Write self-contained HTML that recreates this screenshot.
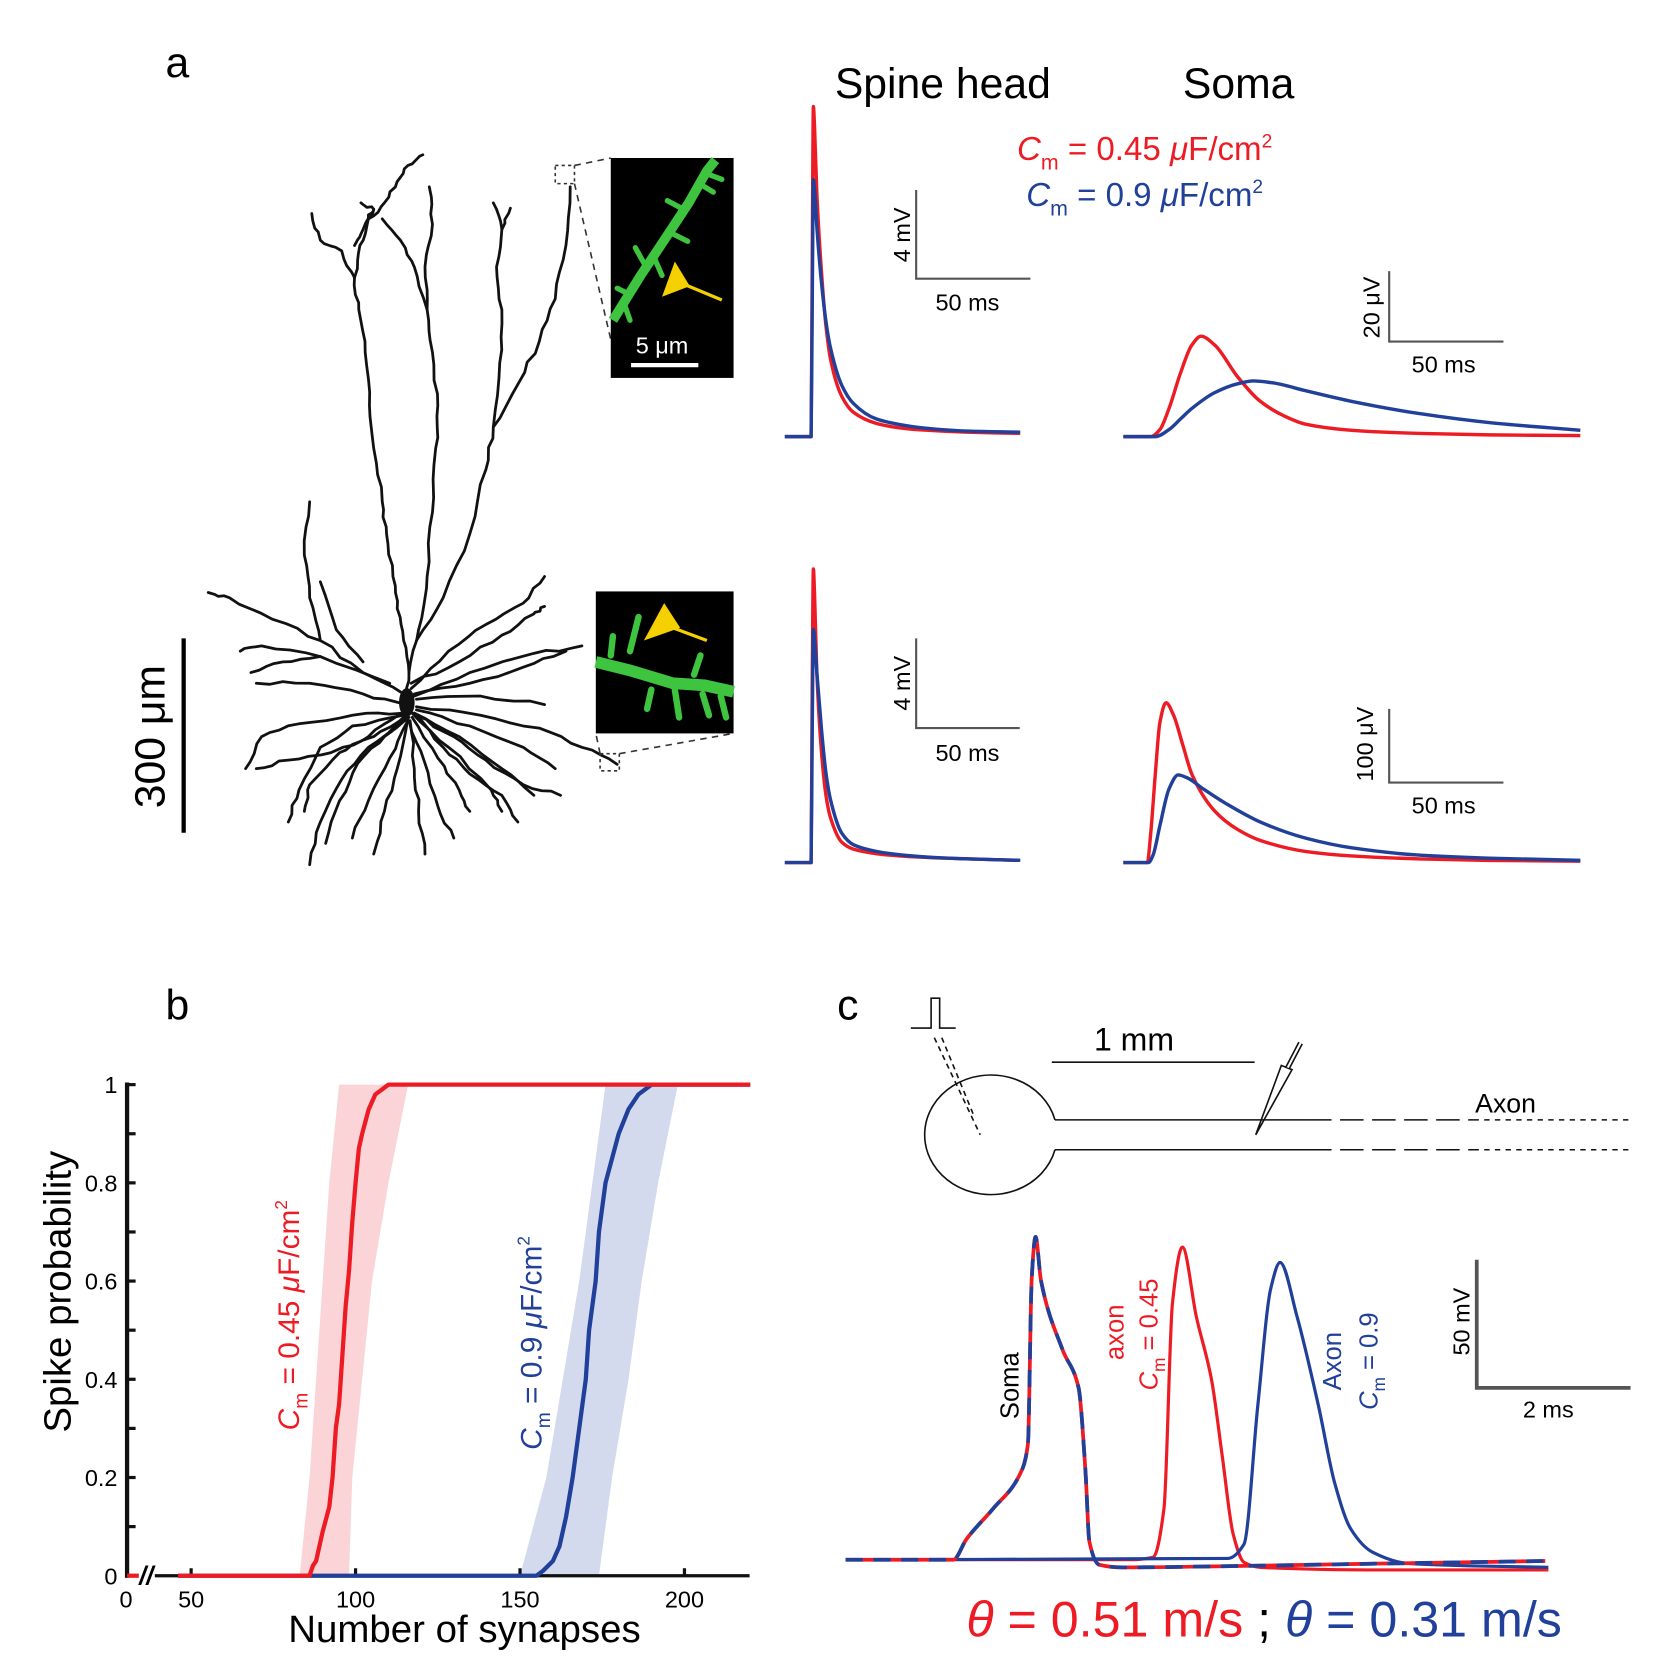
<!DOCTYPE html>
<html><head><meta charset="utf-8"><style>
html,body{margin:0;padding:0;background:#fff}
svg{display:block}
text{font-family:"Liberation Sans",Arial,sans-serif}
</style></head><body>
<svg id="fig" xmlns="http://www.w3.org/2000/svg" width="1654" height="1675" viewBox="0 0 1549 1569" preserveAspectRatio="none">
<text x="155" y="72" font-size="40">a</text>
<text x="155" y="955" font-size="40">b</text>
<text x="784" y="955" font-size="40">c</text>

<g id="neuron" fill="none" stroke="#111" stroke-width="2.6" stroke-linejoin="round" stroke-linecap="round"></g>
<line x1="172" y1="598" x2="172" y2="780" stroke="#000" stroke-width="4"/>
<text transform="translate(154,690) rotate(-90)" font-size="40" text-anchor="middle">300 μm</text>

<g>
<rect x="520" y="155" width="18" height="17" fill="none" stroke="#333" stroke-width="1.5" stroke-dasharray="3,3"/>
<line x1="538" y1="155" x2="572" y2="148" stroke="#333" stroke-width="1.5" stroke-dasharray="6,5"/>
<line x1="538" y1="172" x2="572" y2="318" stroke="#333" stroke-width="1.5" stroke-dasharray="6,5"/>
<rect x="572" y="148" width="115" height="206" fill="#000"/>
<path d="M574,300 L600,258 L622,225 L645,190 L662,160 L670,150" stroke="#3ec43e" stroke-width="9" fill="none"/>
<g stroke="#3ec43e" stroke-width="5" stroke-linecap="round"><line x1="590" y1="276" x2="578" y2="270"/><line x1="605" y1="250" x2="595" y2="232"/><line x1="628" y1="218" x2="644" y2="226"/><line x1="640" y1="196" x2="625" y2="188"/><line x1="655" y1="172" x2="668" y2="180"/><line x1="612" y1="240" x2="620" y2="258"/><line x1="585" y1="286" x2="590" y2="300"/><line x1="660" y1="162" x2="676" y2="168"/></g>
<polygon points="620,278 632,245 646,268" fill="#f5d000"/>
<line x1="640" y1="266" x2="676" y2="281" stroke="#f5d000" stroke-width="3"/>
<text x="620" y="331" font-size="22" fill="#fff" text-anchor="middle">5 μm</text>
<line x1="591" y1="342" x2="654" y2="342" stroke="#fff" stroke-width="4"/>
</g>
<g>
<rect x="562" y="706" width="18" height="16" fill="none" stroke="#333" stroke-width="1.5" stroke-dasharray="3,3"/>
<line x1="562" y1="706" x2="558" y2="687" stroke="#333" stroke-width="1.5" stroke-dasharray="6,5"/>
<line x1="580" y1="706" x2="687" y2="687" stroke="#333" stroke-width="1.5" stroke-dasharray="6,5"/>
<rect x="558" y="554" width="129" height="133" fill="#000"/>
<path d="M558,620 L590,628 L630,640 L660,642 L687,648" stroke="#3ec43e" stroke-width="11" fill="none"/>
<g stroke="#3ec43e" stroke-width="6" stroke-linecap="round"><line x1="572" y1="614" x2="574" y2="596"/><line x1="590" y1="610" x2="598" y2="578"/><line x1="610" y1="646" x2="606" y2="664"/><line x1="632" y1="646" x2="636" y2="672"/><line x1="658" y1="650" x2="664" y2="670"/><line x1="675" y1="652" x2="680" y2="672"/><line x1="650" y1="632" x2="656" y2="614"/></g>
<polygon points="603,600 622,565 637,588" fill="#f5d000"/>
<line x1="630" y1="588" x2="662" y2="600" stroke="#f5d000" stroke-width="3"/>
</g>

<text x="883" y="92" font-size="40" text-anchor="middle">Spine head</text>
<text x="1160" y="92" font-size="40" text-anchor="middle">Soma</text>
<text x="1072" y="150" font-size="31" fill="#ed1c24" text-anchor="middle"><tspan font-style="italic">C</tspan><tspan font-size="20" dy="9">m</tspan><tspan dy="-9"> = 0.45 </tspan><tspan font-style="italic">μ</tspan><tspan>F/cm</tspan><tspan font-size="18" dy="-12">2</tspan></text>
<text x="1072" y="193" font-size="31" fill="#21409a" text-anchor="middle"><tspan font-style="italic">C</tspan><tspan font-size="20" dy="9">m</tspan><tspan dy="-9"> = 0.9 </tspan><tspan font-style="italic">μ</tspan><tspan>F/cm</tspan><tspan font-size="18" dy="-12">2</tspan></text>

<g id="traces"></g>
<g fill="none" stroke="#555" stroke-width="2">
<polyline points="858,178 858,261 965,261"/><polyline points="1301,254 1301,320 1408,320"/>
<polyline points="858,598 858,682 955,682"/><polyline points="1301,664 1301,733 1408,733"/>
</g>
<g font-size="22" text-anchor="middle">
<text transform="translate(852,220) rotate(-90)">4 mV</text><text x="906" y="291">50 ms</text>
<text transform="translate(1292,288) rotate(-90)">20 μV</text><text x="1352" y="349">50 ms</text>
<text transform="translate(852,640) rotate(-90)">4 mV</text><text x="906" y="713">50 ms</text>
<text transform="translate(1286,697) rotate(-90)">100 μV</text><text x="1352" y="762">50 ms</text>
</g>

<g id="chartb"></g>
<text transform="translate(66,1210) rotate(-90)" font-size="36" text-anchor="middle">Spike probability</text>
<text x="435" y="1538" font-size="36" text-anchor="middle">Number of synapses</text>
<text transform="translate(280,1232) rotate(-90)" font-size="28" fill="#ed1c24" text-anchor="middle"><tspan font-style="italic">C</tspan><tspan font-size="18" dy="8">m</tspan><tspan dy="-8"> = 0.45  </tspan><tspan font-style="italic">μ</tspan>F/cm<tspan font-size="16" dy="-11">2</tspan></text>
<text transform="translate(507,1258) rotate(-90)" font-size="28" fill="#21409a" text-anchor="middle"><tspan font-style="italic">C</tspan><tspan font-size="18" dy="8">m</tspan><tspan dy="-8"> = 0.9 </tspan><tspan font-style="italic">μ</tspan>F/cm<tspan font-size="16" dy="-11">2</tspan></text>

<g fill="none" stroke="#111" stroke-width="1.5">
<polyline points="853,963 872,963 872,935 880,935 880,963 895,963"/>
<line x1="875" y1="972" x2="918" y2="1063" stroke-dasharray="5,4"/>
<line x1="882" y1="972" x2="912" y2="1045" stroke-dasharray="5,4"/>
<path d="M988,1049 A62,56 0 1 0 988,1077"/>
<line x1="988" y1="1049" x2="1225" y2="1049"/><line x1="988" y1="1077" x2="1225" y2="1077"/>
<line x1="1225" y1="1049" x2="1380" y2="1049" stroke-dasharray="22,8"/><line x1="1225" y1="1077" x2="1380" y2="1077" stroke-dasharray="22,8"/>
<line x1="1380" y1="1049" x2="1530" y2="1049" stroke-dasharray="5,5"/><line x1="1380" y1="1077" x2="1530" y2="1077" stroke-dasharray="5,5"/>
<line x1="985" y1="995" x2="1175" y2="995"/>
<polygon points="1176,1063 1200,998 1210,1002"/>
<line x1="1206" y1="1000" x2="1218" y2="977" stroke-width="5" stroke="#111"/>
<line x1="1206" y1="1000" x2="1218" y2="977" stroke-width="2" stroke="#fff"/>
</g>
<text x="1062" y="984" font-size="30" text-anchor="middle">1 mm</text>
<text x="1410" y="1042" font-size="25" text-anchor="middle">Axon</text>

<g id="tracesc"></g>
<polyline points="1383,1180 1383,1300 1527,1300" fill="none" stroke="#555" stroke-width="3.5"/>
<text transform="translate(1376,1238) rotate(-90)" font-size="22" text-anchor="middle">50 mV</text>
<text x="1450" y="1328" font-size="22" text-anchor="middle">2 ms</text>
<text transform="translate(954,1298) rotate(-90)" font-size="24" text-anchor="middle">Soma</text>
<text transform="translate(1052,1248) rotate(-90)" font-size="24" fill="#ed1c24" text-anchor="middle">axon</text>
<text transform="translate(1084,1250) rotate(-90)" font-size="24" fill="#ed1c24" text-anchor="middle"><tspan font-style="italic">C</tspan><tspan font-size="16" dy="7">m</tspan><tspan dy="-7"> = 0.45</tspan></text>
<text transform="translate(1256,1275) rotate(-90)" font-size="24" fill="#21409a" text-anchor="middle">Axon</text>
<text transform="translate(1290,1275) rotate(-90)" font-size="24" fill="#21409a" text-anchor="middle"><tspan font-style="italic">C</tspan><tspan font-size="16" dy="7">m</tspan><tspan dy="-7"> = 0.9</tspan></text>
<text x="905" y="1533" font-size="47"><tspan fill="#ed1c24"><tspan font-style="italic">θ</tspan> = 0.51 m/s</tspan><tspan fill="#000"> ; </tspan><tspan fill="#21409a"><tspan font-style="italic">θ</tspan> = 0.31 m/s</tspan></text>
</svg>
<script>
const NS="http://www.w3.org/2000/svg";
const RED="#ed1c24", BLUE="#21409a";
// ---- panel a data (ms, mV / µV) ----
const spineTopT=[0,11.5,12,12.5,13,14,16,18,20,25,30,40,50,60,80,103];
const spineTopRed=[0,0,8,14.9,14,11,7.5,5,3.5,1.8,1.1,0.6,0.4,0.3,0.2,0.15];
const spineTopBlue=[0,0,6,11.6,11.2,9.5,7,5.2,4,2.3,1.5,0.8,0.55,0.4,0.25,0.2];
const somaTopRedT=[0,12,16,20,25,30,34,40,50,60,70,80,100,130,160,200];
const somaTopRed=[0,0,2,8,18,26,28.5,26,17,10,6,3.5,1.8,0.9,0.5,0.3];
const somaTopBlueT=[0,14,20,25,30,40,50,57,65,80,100,130,160,200];
const somaTopBlue=[0,0,2,5,8,12.5,15,15.8,15.3,13,10,6.5,4,1.8];
const spineBotT=[0,11.5,12,12.5,13,14,16,18,20,25,30,40,50,70,103];
const spineBotRed=[0,0,8,13.1,12,8.5,5,3,2,0.9,0.6,0.4,0.3,0.2,0.1];
const spineBotBlue=[0,0,6,10.4,10,8.5,6,4,2.8,1.3,0.8,0.5,0.35,0.2,0.1];
const somaBotRedT=[0,10.5,12,14,16,18.7,22,26,30,40,50,60,80,100,130,160,200];
const somaBotRed=[0,0,40,120,190,217,200,160,120,70,45,30,15,9,5,3,2];
const somaBotBlueT=[0,11,13,16,20,24,28,35,45,60,80,100,130,160,200];
const somaBotBlue=[0,0,10,50,100,119,115,100,80,55,33,20,10,6,3];
// ---- panel b data ----
const redN=[40,86,87,88,90,92,93,94,95,96,97,98,99,100,101,102,104,106,108,110,220];
const redP=[0,0,0.02,0.03,0.09,0.14,0.2,0.3,0.35,0.45,0.55,0.62,0.72,0.8,0.87,0.9,0.95,0.98,0.99,1,1];
const redBandLoN=[83,86,88,90,92,95];
const redBandHiN=[98,99,102,105,110,116];
const blueN=[40,155,157,160,162,164,166,168,170,171,173,174,176,178,180,183,186,190,220];
const blueP=[0,0,0.01,0.03,0.06,0.12,0.2,0.3,0.4,0.5,0.6,0.7,0.8,0.85,0.9,0.95,0.98,1,1];
const blueBandLoN=[150,158,163,168,172,176];
const blueBandHiN=[174,178,183,187,192,198];
const bandP=[0,0.2,0.4,0.6,0.8,1];
const yTicks=[0,0.2,0.4,0.6,0.8,1];
const yTickLabels=["0","0.2","0.4","0.6","0.8","1"];
const xTicks=[50,100,150,200];
// ---- panel c data (ms, mV rel. rest) ----
const somaCT=[0,1.4,1.57,1.92,2.26,2.37,2.42,2.47,2.54,2.82,3.03,3.12,3.17,3.3,3.6,5,7,9.1];
const somaCV=[0,0,8,20,33,45,110,126,109,82,67,34,7,-2,-3,-2.5,-1.5,-0.5];
const axRedT=[0,3.72,4.0,4.14,4.25,4.38,4.56,4.76,4.9,5.04,5.18,5.4,7,9.14];
const axRedV=[0,0,1,20,100,122,95,70,40,10,-1,-3,-4,-4];
const axBlueT=[0,4.97,5.18,5.36,5.53,5.65,5.87,6.15,6.36,6.57,6.85,7.33,9.14];
const axBlueV=[0,0.5,6,60,106,116,95,60,30,12,3,-1.5,-3];

function el(tag,attrs,parent){const e=document.createElementNS(NS,tag);for(const k in attrs)e.setAttribute(k,attrs[k]);parent.appendChild(e);return e;}
function monoPath(pts){ // monotone cubic (Fritsch-Carlson), no overshoot
  const n=pts.length, dx=[],m=[],s=[];
  for(let i=0;i<n-1;i++){dx[i]=pts[i+1][0]-pts[i][0];s[i]=(pts[i+1][1]-pts[i][1])/(dx[i]||1e-6);}
  m[0]=s[0];m[n-1]=s[n-2];
  for(let i=1;i<n-1;i++){m[i]=(s[i-1]*s[i]<=0)?0:(3*(dx[i-1]+dx[i]))/((2*dx[i]+dx[i-1])/s[i-1]+(dx[i]+2*dx[i-1])/s[i]);}
  let d="M"+pts[0][0].toFixed(2)+","+pts[0][1].toFixed(2);
  for(let i=0;i<n-1;i++){const h=dx[i]/3;
    d+=" C"+(pts[i][0]+h).toFixed(2)+","+(pts[i][1]+m[i]*h).toFixed(2)+" "+(pts[i+1][0]-h).toFixed(2)+","+(pts[i+1][1]-m[i+1]*h).toFixed(2)+" "+pts[i+1][0].toFixed(2)+","+pts[i+1][1].toFixed(2);}
  return d;}
function trace(g,T,V,sx,sy,color,name,w,dash){
  const pts=T.map((t,i)=>[sx(t),sy(V[i])]);
  const p=el("path",{d:monoPath(pts),fill:"none",stroke:color,"stroke-width":w||3.2,"stroke-linejoin":"round"},g);
  if(dash)p.setAttribute("stroke-dasharray",dash);
  
  
  return p;}
const tr=document.getElementById("traces");
const msA=2.14;
const sxS=t=>735+t*msA, sxM=t=>1052+t*msA;
const syST=v=>409-v*20.75, syMT=v=>409-v*3.3, sySB=v=>808-v*21, syMB=v=>808-v*0.69;
trace(tr,spineTopT,spineTopRed,sxS,syST,RED,"spine-top-red");
trace(tr,spineTopT,spineTopBlue,sxS,syST,BLUE,"spine-top-blue");
trace(tr,somaTopRedT,somaTopRed,sxM,syMT,RED,"soma-top-red");
trace(tr,somaTopBlueT,somaTopBlue,sxM,syMT,BLUE,"soma-top-blue");
trace(tr,spineBotT,spineBotRed,sxS,sySB,RED,"spine-bottom-red");
trace(tr,spineBotT,spineBotBlue,sxS,sySB,BLUE,"spine-bottom-blue");
trace(tr,somaBotRedT,somaBotRed,sxM,syMB,RED,"soma-bottom-red");
trace(tr,somaBotBlueT,somaBotBlue,sxM,syMB,BLUE,"soma-bottom-blue");

// panel b
const cb=document.getElementById("chartb");
const xB=n=>179+(n-50)*3.08, yB=p=>1476-p*460;
function band(lo,hi,color,name){
  const pts=lo.map((n,i)=>xB(n)+","+yB(bandP[i])).concat(hi.map((n,i)=>xB(n)+","+yB(bandP[i])).reverse());
  const b=el("polygon",{points:pts.join(" "),fill:color},cb);
  
  }
band(redBandLoN,redBandHiN,"rgba(240,120,130,0.32)","band-red");
band(blueBandLoN,blueBandHiN,"rgba(120,140,200,0.32)","band-blue");
el("line",{x1:145,y1:1476,x2:702,y2:1476,stroke:"#111","stroke-width":3},cb);
const ya=el("line",{x1:119,y1:1014,x2:119,y2:1478,stroke:"#111","stroke-width":4},cb);


for(let k=0;k<=10;k++){const tk=el("line",{x1:119,x2:127,y1:yB(k/10),y2:yB(k/10),stroke:"#111","stroke-width":3},cb);
  
  }
yTicks.forEach((v,i)=>{const t=el("text",{x:110,y:yB(v)+8,"font-size":22,"text-anchor":"end"},cb);t.textContent=yTickLabels[i];
  
  });
xTicks.forEach(v=>{el("line",{x1:xB(v),x2:xB(v),y1:1476,y2:1469,stroke:"#111","stroke-width":3},cb);
  const t=el("text",{x:xB(v),y:1506,"font-size":22,"text-anchor":"middle"},cb);t.textContent=v;
  
  });
const z=el("text",{x:118,y:1506,"font-size":22,"text-anchor":"middle"},cb);z.textContent="0";


el("line",{x1:119,y1:1476,x2:130,y2:1476,stroke:RED,"stroke-width":4},cb);
const brk=el("text",{x:137,y:1484,"font-size":24,"text-anchor":"middle","font-style":"italic","font-weight":"bold"},cb);brk.textContent="//";


function line(N,P,color,name){const pts=N.map((n,i)=>xB(Math.max(n,46))+","+yB(P[i]));
  const l=el("polyline",{points:pts.join(" "),fill:"none",stroke:color,"stroke-width":4,"stroke-linejoin":"round"},cb);
  
  }
line(blueN,blueP,BLUE,"curve-blue");
line(redN,redP,RED,"curve-red");

// panel c
const tc=document.getElementById("tracesc");
const sxC=t=>792+t*72, syC=v=>1461-v*2.4;
trace(tc,axRedT,axRedV,sxC,syC,RED,"axon-red",3);
trace(tc,axBlueT,axBlueV,sxC,syC,BLUE,"axon-blue",3);
trace(tc,somaCT,somaCV,sxC,syC,RED,"soma-red-dashed",3.5);
trace(tc,somaCT,somaCV,sxC,syC,BLUE,"soma-blue-dashed",3.5,"16,10");

// neuron illustration (hand-drawn branches, with small wiggle)
const ng=document.getElementById("neuron");
const branches=[
"M380,660 L383,630 L378,600 L372,570 L368,540 L362,500 L358,470 L350,420 L346,380 L342,330 L336,290 L332,260 L337,230 L345,205 L350,196 L338,190",
"M332,260 L320,235 L300,225 L292,200",
"M345,205 L360,190 L372,170 L382,155 L396,145",
"M350,196 L340,215 L332,230",
"M383,630 L392,590 L400,540 L405,480 L408,420 L410,380 L405,330 L400,290 L388,250 L375,225 L358,205",
"M400,290 L398,250 L405,210 L402,175",
"M390,600 L415,560 L440,500 L455,440 L462,400 L468,340 L470,290 L465,250 L470,215 L462,190",
"M462,400 L485,360 L505,320 L520,280 L530,230 L534,175",
"M470,215 L478,195",
"M378,650 L340,630 L300,600 L255,580 L215,560 L195,555",
"M300,600 L290,560 L285,520 L290,470",
"M340,620 L315,590 L300,545",
"M365,640 L300,615 L245,605 L225,610",
"M300,615 L265,620 L235,630",
"M385,645 L420,610 L455,585 L490,565 L510,540",
"M385,640 L430,620 L470,595 L500,575 L510,568",
"M388,650 L440,640 L490,625 L530,610",
"M390,655 L450,652 L510,660",
"M388,652 L440,630 L500,612 L545,605",
"M380,660 L340,650 L290,640 L240,640",
"M378,668 L330,670 L280,678 L245,690 L230,720",
"M378,670 L330,680 L300,700 L280,740 L270,770",
"M380,672 L345,700 L320,730 L300,770 L290,810",
"M382,675 L365,710 L345,750 L330,785",
"M384,675 L388,720 L392,760 L398,800",
"M386,672 L410,710 L430,740 L440,760",
"M388,668 L430,690 L470,720 L500,745",
"M390,665 L440,680 L490,700 L520,720",
"M390,662 L450,670 L505,682 L545,700 L578,716",
"M386,668 L420,700 L460,740 L470,760",
"M380,670 L350,690 L310,705 L270,712 L240,720",
"M382,672 L372,720 L360,760 L350,800",
"M376,668 L345,690 L318,705 L290,735 L285,760",
"M388,668 L415,700 L440,725 L470,745 L485,770",
"M383,675 L398,715 L410,755 L425,785",
"M383,672 L360,690 L335,715 L318,750 L305,790",
"M389,670 L425,690 L455,712 L490,735 L525,745"];
let seed=7;function rnd(){seed=(seed*16807)%2147483647;return seed/2147483647-0.5;}
branches.forEach(d=>{
  const pts=d.replace(/M|L/g," ").trim().split(/\s+/).map(s=>s.split(",").map(Number));
  let out="M"+pts[0].join(",");
  for(let i=1;i<pts.length;i++){const a=pts[i-1],b=pts[i];
    for(let k=1;k<=4;k++){const f=k/4;const j=k<4?3:0;
      out+=" L"+(a[0]+(b[0]-a[0])*f+rnd()*j).toFixed(1)+","+(a[1]+(b[1]-a[1])*f+rnd()*j).toFixed(1);}}
  const p=el("path",{d:out},ng);
  
  });
el("ellipse",{cx:381,cy:658,rx:6,ry:12,fill:"#111"},ng);
</script>
</body></html>
